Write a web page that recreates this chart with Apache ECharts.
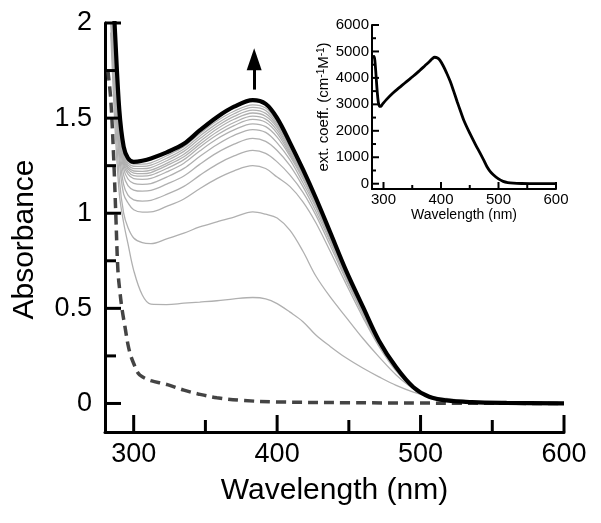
<!DOCTYPE html>
<html><head><meta charset="utf-8">
<script src="https://cdn.jsdelivr.net/npm/echarts@6/dist/echarts.min.js"></script>
<style>html,body{margin:0;padding:0;background:#fff}#c{width:601px;height:523px}</style>
</head><body><div id="c"></div>
<script>
// ---- main panel data ----
const wavelengths = [284, 287, 290, 293, 296, 300, 306, 312, 323, 335, 346, 358, 370, 383, 392, 400, 409, 418, 427, 437, 448, 460, 471, 483, 495, 506, 518, 536, 560, 600];
const finalSpectrum = [2.4, 1.95, 1.54, 1.35, 1.29, 1.27, 1.276, 1.288, 1.32, 1.365, 1.435, 1.505, 1.56, 1.595, 1.575, 1.50, 1.37, 1.23, 1.08, 0.90, 0.70, 0.505, 0.33, 0.19, 0.085, 0.035, 0.016, 0.007, 0.003, 0];
const titration01 = [1.95, 1.45, 1.1, 0.95, 0.84, 0.70, 0.57, 0.522, 0.52, 0.527, 0.533, 0.54, 0.55, 0.557, 0.55, 0.525, 0.48, 0.43, 0.36, 0.30, 0.24, 0.185, 0.14, 0.095, 0.06, 0.038, 0.026, 0.012, 0.005, 0];
const titration02 = [2.0, 1.55, 1.18, 1.0, 0.925, 0.87, 0.845, 0.84, 0.865, 0.895, 0.928, 0.955, 0.98, 1.007, 0.995, 0.975, 0.91, 0.80, 0.67, 0.56, 0.454, 0.34, 0.245, 0.15, 0.078, 0.038, 0.018, 0.008, 0.003, 0];
const titration03 = [2.05, 1.63, 1.27, 1.1, 1.055, 1.018, 1.006, 1.007, 1.036, 1.075, 1.129, 1.182, 1.223, 1.25, 1.235, 1.19, 1.14, 1.06, 0.95, 0.80, 0.63, 0.45, 0.30, 0.17, 0.08, 0.035, 0.016, 0.007, 0.003, 0];
const titration04 = [2.1, 1.68, 1.32, 1.15, 1.095, 1.07, 1.064, 1.068, 1.099, 1.141, 1.199, 1.257, 1.301, 1.33, 1.315, 1.27, 1.20, 1.11, 0.99, 0.83, 0.65, 0.465, 0.31, 0.175, 0.08, 0.035, 0.016, 0.007, 0.003, 0];
const titration05 = [2.14, 1.72, 1.36, 1.2, 1.145, 1.122, 1.116, 1.12, 1.153, 1.196, 1.257, 1.317, 1.363, 1.393, 1.378, 1.33, 1.25, 1.14, 1.01, 0.85, 0.66, 0.475, 0.315, 0.18, 0.082, 0.035, 0.016, 0.007, 0.003, 0];
const titration06 = [2.16, 1.74, 1.39, 1.235, 1.18, 1.157, 1.152, 1.156, 1.19, 1.236, 1.298, 1.36, 1.409, 1.44, 1.425, 1.37, 1.28, 1.16, 1.03, 0.86, 0.67, 0.48, 0.318, 0.182, 0.083, 0.035, 0.016, 0.007, 0.003, 0];
const titration07 = [2.18, 1.76, 1.41, 1.255, 1.205, 1.182, 1.178, 1.183, 1.217, 1.263, 1.327, 1.39, 1.438, 1.47, 1.455, 1.40, 1.30, 1.18, 1.04, 0.87, 0.675, 0.485, 0.32, 0.184, 0.083, 0.035, 0.016, 0.007, 0.003, 0];
const titration08 = [2.2, 1.78, 1.43, 1.27, 1.22, 1.198, 1.195, 1.2, 1.235, 1.282, 1.347, 1.411, 1.461, 1.493, 1.478, 1.42, 1.31, 1.19, 1.05, 0.875, 0.68, 0.49, 0.322, 0.185, 0.084, 0.035, 0.016, 0.007, 0.003, 0];
const titration09 = [2.22, 1.8, 1.44, 1.28, 1.233, 1.211, 1.208, 1.214, 1.25, 1.297, 1.362, 1.427, 1.477, 1.51, 1.495, 1.435, 1.32, 1.20, 1.055, 0.88, 0.685, 0.493, 0.324, 0.186, 0.084, 0.035, 0.016, 0.007, 0.003, 0];
const titration10 = [2.24, 1.82, 1.45, 1.29, 1.243, 1.222, 1.22, 1.226, 1.262, 1.31, 1.376, 1.443, 1.494, 1.527, 1.51, 1.45, 1.33, 1.205, 1.06, 0.885, 0.688, 0.496, 0.326, 0.187, 0.084, 0.035, 0.016, 0.007, 0.003, 0];
const titration11 = [2.26, 1.84, 1.46, 1.3, 1.254, 1.235, 1.234, 1.24, 1.276, 1.325, 1.391, 1.457, 1.509, 1.542, 1.525, 1.46, 1.34, 1.21, 1.065, 0.89, 0.692, 0.498, 0.327, 0.188, 0.085, 0.035, 0.016, 0.007, 0.003, 0];
const titration12 = [2.28, 1.86, 1.48, 1.31, 1.265, 1.247, 1.246, 1.253, 1.289, 1.338, 1.405, 1.471, 1.523, 1.556, 1.54, 1.47, 1.35, 1.215, 1.07, 0.893, 0.695, 0.5, 0.328, 0.189, 0.085, 0.035, 0.016, 0.007, 0.003, 0];
const titration13 = [2.3, 1.88, 1.5, 1.32, 1.275, 1.258, 1.258, 1.265, 1.302, 1.35, 1.418, 1.485, 1.536, 1.57, 1.553, 1.48, 1.36, 1.22, 1.075, 0.896, 0.698, 0.502, 0.329, 0.189, 0.085, 0.035, 0.016, 0.007, 0.003, 0];
const grayCurves = [titration01, titration02, titration03, titration04, titration05, titration06, titration07, titration08, titration09, titration10, titration11, titration12, titration13];

const dashedWavelengths = [282, 284, 286, 287.5, 289, 290.5, 292, 294, 296, 298, 300, 303, 306, 312, 323, 335, 345, 358, 376, 400, 450, 500, 600];
const dashedValues = [1.75, 1.6, 1.3, 1.0, 0.7, 0.58, 0.49, 0.4, 0.31, 0.25, 0.21, 0.16, 0.14, 0.12, 0.1, 0.07, 0.05, 0.03, 0.016, 0.008, 0.004, 0.002, 0];

const mainXMajor = [300, 400, 500, 600];
const mainXMinor = [350, 450, 550];
const mainYMajor = [0, 0.5, 1, 1.5, 2];
const mainYMinor = [0.25, 0.75, 1.25, 1.75];
const arrowFrom = [384, 1.65];
const arrowTo = [384, 1.81];

// ---- inset data ----
const insetWavelengths = [280.5, 282, 283.5, 285, 287, 289, 291, 293, 295, 298, 305, 316, 328, 340, 352, 363, 372, 380, 385, 389, 394, 398, 404, 410, 416, 422, 428, 434, 440, 450, 460, 468, 475, 480, 485, 491, 500, 508, 516, 526, 540, 555, 570, 600];
const insetExtCoeff = [4740, 4800, 4810, 4650, 4100, 3500, 3080, 2930, 2920, 3000, 3180, 3420, 3640, 3860, 4070, 4280, 4460, 4620, 4730, 4780, 4750, 4670, 4450, 4176, 3870, 3500, 3110, 2740, 2380, 1910, 1480, 1157, 860, 640, 480, 340, 180, 90, 45, 22, 8, 2, 0, 0];
const insetXMajor = [300, 400, 500, 600];
const insetXMinor = [350, 450, 550];
const insetYMajor = [0, 1000, 2000, 3000, 4000, 5000, 6000];
const insetYMinor = [500, 1500, 2500, 3500, 4500, 5500];

const FONT = 'Liberation Sans';
const pairs = (xs, ys) => xs.map((x, i) => [x, ys[i]]);
const plain = v => String(v);

// Inward tick marks drawn through the library's scales (custom series).
// dir 'x': tick at an x value, rising from the bottom edge of the grid.
// dir 'y': tick at a y value, pointing right from the left edge of the grid.
function tickSeries(axisIdx, dir, values, len, w) {
  return {
    type: 'custom', xAxisIndex: axisIdx, yAxisIndex: axisIdx, silent: true, clip: false, z: 6,
    data: values.map(v => [v]),
    encode: dir === 'x' ? { x: 0 } : { y: 0 },
    renderItem: function (params, api) {
      const cs = params.coordSys;
      const v = api.value(0);
      if (dir === 'x') {
        const px = api.coord([v, 0])[0];
        const y0 = cs.y + cs.height;
        return { type: 'line', shape: { x1: px, y1: y0, x2: px, y2: y0 - len },
          style: { stroke: '#000', lineWidth: w } };
      }
      const py = api.coord([0, v])[1];
      return { type: 'line', shape: { x1: cs.x, y1: py, x2: cs.x + len, y2: py },
        style: { stroke: '#000', lineWidth: w } };
    }
  };
}

const series = [];
grayCurves.forEach((c) => {
  series.push({
    type: 'line', xAxisIndex: 0, yAxisIndex: 0, data: pairs(wavelengths, c),
    showSymbol: false, smooth: 0.35, clip: true,
    lineStyle: { color: '#b0b0b0', width: 1.3 }, z: 2, silent: true
  });
});
series.push({
  type: 'line', xAxisIndex: 0, yAxisIndex: 0, data: pairs(dashedWavelengths, dashedValues),
  showSymbol: false, smooth: 0.35, clip: true,
  lineStyle: { color: '#444444', width: 3.5, type: [10, 6] }, z: 3, silent: true
});
series.push({
  type: 'line', xAxisIndex: 0, yAxisIndex: 0, data: pairs(wavelengths, finalSpectrum),
  showSymbol: false, smooth: 0.35, clip: true,
  lineStyle: { color: '#000', width: 4.2 }, z: 4, silent: true,
  markLine: {
    silent: true, animation: false,
    symbol: ['none', 'triangle'], symbolSize: [15, 22],
    label: { show: false },
    lineStyle: { color: '#000', width: 3, type: 'solid' },
    data: [[{ coord: arrowFrom }, { coord: arrowTo }]]
  }
});
series.push({
  type: 'line', xAxisIndex: 1, yAxisIndex: 1, data: pairs(insetWavelengths, insetExtCoeff),
  showSymbol: false, smooth: 0.35, clip: true,
  lineStyle: { color: '#000', width: 2.8 }, z: 4, silent: true
});
series.push(tickSeries(0, 'x', mainXMajor, 17, 3));
series.push(tickSeries(0, 'x', mainXMinor, 12, 3));
series.push(tickSeries(0, 'y', mainYMajor, 16, 3));
series.push(tickSeries(0, 'y', mainYMinor, 11, 3));
series.push(tickSeries(1, 'x', insetXMajor, 7, 2));
series.push(tickSeries(1, 'x', insetXMinor, 4, 2));
series.push(tickSeries(1, 'y', insetYMajor, 7, 2));
series.push(tickSeries(1, 'y', insetYMinor, 4, 2));

function labelAxis(gridIndex, pos, min, max, values, lineW, fontSize, margin, nameOpts) {
  return Object.assign({
    type: 'value', gridIndex, position: pos, min, max,
    splitLine: { show: false },
    axisLine: { show: true, onZero: false, lineStyle: { color: '#000', width: lineW } },
    axisTick: { show: false },
    axisLabel: { customValues: values, formatter: plain, fontSize, color: '#000', fontFamily: FONT, margin }
  }, nameOpts);
}

const option = {
  animation: false,
  backgroundColor: '#fff',
  grid: [
    { left: 105, right: 37, top: 23, bottom: 91 },
    { left: 372, right: 45, top: 25, bottom: 334 }
  ],
  xAxis: [
    labelAxis(0, 'bottom', 280, 600, mainXMajor, 3, 27, 9, {
      name: 'Wavelength (nm)', nameLocation: 'middle', nameGap: 44,
      nameTextStyle: { fontSize: 30, color: '#000', fontFamily: FONT }
    }),
    labelAxis(1, 'bottom', 280, 600, insetXMajor, 2, 15, 3, {
      name: 'Wavelength (nm)', nameLocation: 'middle', nameGap: 18,
      nameTextStyle: { fontSize: 14, color: '#000', fontFamily: FONT }
    })
  ],
  yAxis: [
    labelAxis(0, 'left', -0.15, 2, mainYMajor, 3, 27, 13, {
      name: 'Absorbance', nameLocation: 'middle', nameGap: 65, nameRotate: 90,
      nameTextStyle: { fontSize: 30, color: '#000', fontFamily: FONT, padding: [0, 24, 0, 0] }
    }),
    labelAxis(1, 'left', -200, 6000, insetYMajor, 2, 15, 3, {
      name: 'ext. coeff. (cm{s|-1}M{s|-1})', nameLocation: 'middle', nameGap: 37, nameRotate: 90,
      nameTextStyle: { fontSize: 15, color: '#000', fontFamily: FONT,
        rich: { s: { fontSize: 10, verticalAlign: 'top', color: '#000', fontFamily: FONT, padding: [0, 0, 6, 0] } } }
    })
  ],
  series: series
};

const chart = echarts.init(document.getElementById('c'), null, { renderer: 'canvas' });
chart.setOption(option);
</script></body></html>
